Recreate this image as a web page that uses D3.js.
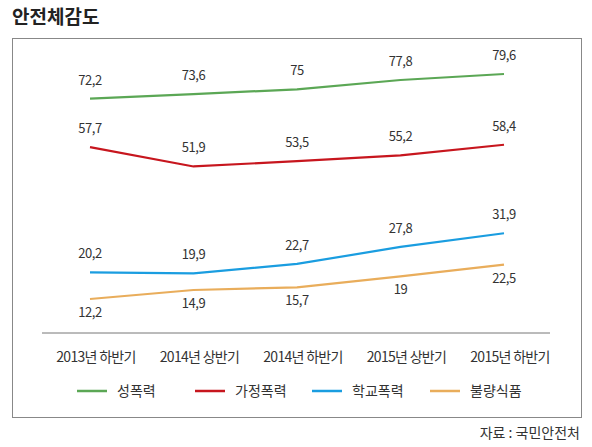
<!DOCTYPE html>
<html><head><meta charset="utf-8">
<script src="https://cdn.jsdelivr.net/npm/d3@7"></script>
<style>body{margin:0;background:#fff;font-family:"Noto Sans CJK KR","Noto Sans",sans-serif;}</style>
</head><body>
<svg id="chart" width="592" height="447"></svg>
<script>
var categories = ["2013년 하반기","2014년 상반기","2014년 하반기","2015년 상반기","2015년 하반기"];
var seriesNames = ["성폭력","가정폭력","학교폭력","불량식품"];
var seriesColors = ["#5ba755","#c7161e","#1a9de0","#e9ad5b"];
var sexual = [72.2,73.6,75,77.8,79.6];
var domestic = [57.7,51.9,53.5,55.2,58.4];
var school = [20.2,19.9,22.7,27.8,31.9];
var food = [12.2,14.9,15.7,19,22.5];
var series = [sexual, domestic, school, food];

var svg = d3.select("#chart");
svg.append("text").attr("x",12).attr("y",24).attr("font-size",19).attr("font-weight","bold")
  .attr("fill","#222").text("안전체감도");
svg.append("rect").attr("x",12.5).attr("y",38.5).attr("width",569).attr("height",379)
  .attr("fill","none").attr("stroke","#888").attr("stroke-width",1);

var x = d3.scalePoint().domain(categories).range([90,504]);
var y = d3.scaleLinear().domain([12.2,79.6]).range([299,74]);

svg.append("line").attr("x1",42).attr("x2",550).attr("y1",333).attr("y2",333)
  .attr("stroke","#777").attr("stroke-width",1);
svg.selectAll(".cat").data(categories).enter().append("text")
  .attr("x",function(d){return x(d)+6;}).attr("y",362).attr("text-anchor","middle")
  .attr("font-size",14).attr("fill","#333").attr("letter-spacing",-0.7).text(function(d){return d;});

var line = d3.line().x(function(d,i){return x(categories[i]);}).y(function(d){return y(d);});
series.forEach(function(s,k){
  svg.append("path").datum(s).attr("d",line).attr("fill","none")
    .attr("stroke",seriesColors[k]).attr("stroke-width",2.2);
  svg.selectAll(".v"+k).data(s).enter().append("text")
    .attr("x",function(d,i){return x(categories[i]);})
    .attr("y",function(d){return y(d)+(k==3?18:-14);})
    .attr("text-anchor","middle").attr("font-size",13).attr("fill","#333").attr("letter-spacing",-0.5)
    .text(function(d){return String(d).replace(".",",");});
});

var lx = [77,195,312,430];
seriesNames.forEach(function(n,k){
  svg.append("line").attr("x1",lx[k]).attr("x2",lx[k]+30).attr("y1",391).attr("y2",391)
    .attr("stroke",seriesColors[k]).attr("stroke-width",2.5);
  svg.append("text").attr("x",lx[k]+40).attr("y",396).attr("font-size",14).attr("fill","#333").text(n);
});
svg.append("text").attr("x",580).attr("y",438).attr("text-anchor","end").attr("font-size",14)
  .attr("fill","#333").text("자료 : 국민안전처");
</script>
</body></html>
